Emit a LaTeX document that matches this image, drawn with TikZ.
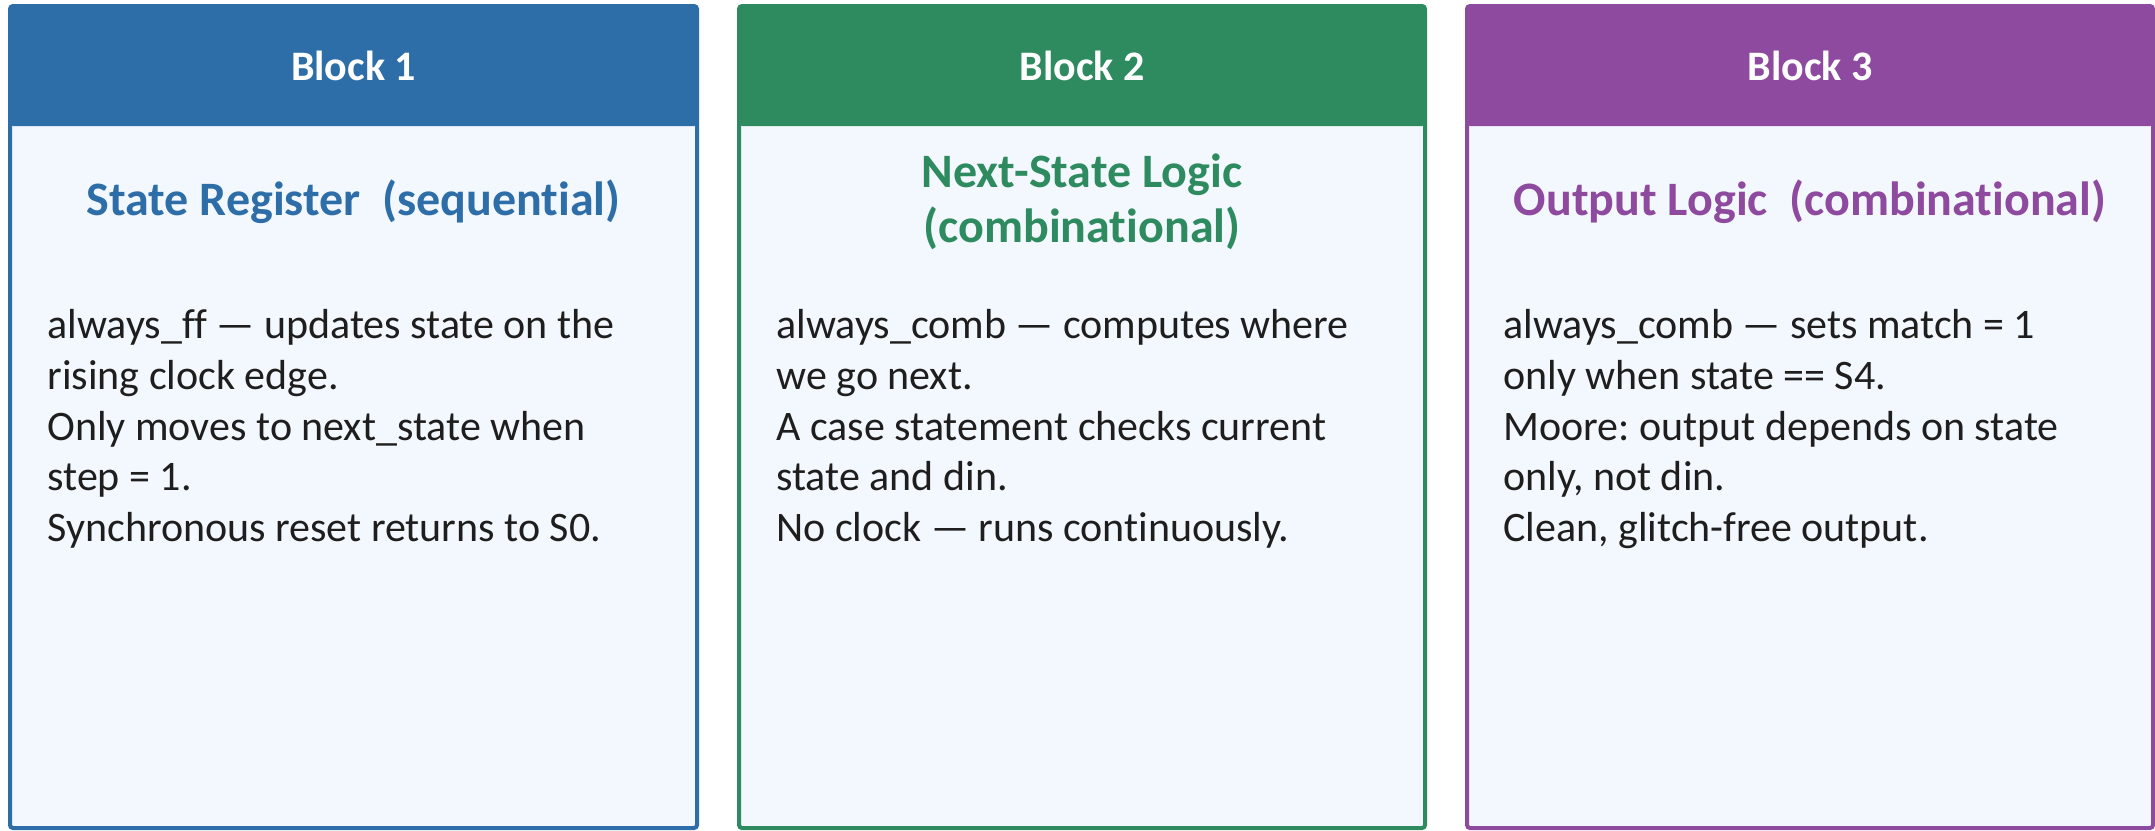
\documentclass[tikz,border=0pt]{standalone}
\usepackage{fontspec}
\setmainfont[Ligatures=NoCommon]{Carlito}
\frenchspacing
\definecolor{cblue}{HTML}{2E6EA8}
\definecolor{cgreen}{HTML}{2E8B5F}
\definecolor{cpurple}{HTML}{8E4A9E}
\definecolor{bodyfill}{HTML}{F3F7FE}
\definecolor{txt}{HTML}{1E1E1E}
\tikzset{
  headtext/.style={text=white, font=\bfseries\fontsize{21pt}{25pt}\selectfont, inner sep=0pt, anchor=center},
  titletext/.style={font=\bfseries\fontsize{24pt}{27.5pt}\selectfont, inner sep=0pt, anchor=center, align=center},
  bodytext/.style={text=txt, font=\fontsize{21pt}{25.4pt}\selectfont, inner sep=0pt, anchor=north west, align=left},
  boxframe/.style={line width=2pt, rounded corners=1.5pt}
}
\begin{document}
\begin{tikzpicture}[x=0.5pt,y=-0.5pt]
\useasboundingbox (0,0) rectangle (2155,830);
% Block 1
\fill[bodyfill] (10,6) rectangle (697,828);
\fill[cblue, rounded corners=1.5pt] (10,5) rectangle (697,126);
\draw[cblue, boxframe] (10,6) rectangle (697,828);
\node[headtext] (h1) at (353.5,66) {Block 1};
\node[titletext, text=cblue] (t1) at (353.5,202) {State Register\ \ (sequential)};
\node[bodytext] (d1) at (47,309) {always\_ff — updates state on the\\rising clock edge.\\Only moves to next\_state when\\step = 1.\\Synchronous reset returns to S0.};
% Block 2
\fill[bodyfill] (739,6) rectangle (1425,828);
\fill[cgreen, rounded corners=1.5pt] (739,5) rectangle (1425,126);
\draw[cgreen, boxframe] (739,6) rectangle (1425,828);
\node[headtext] (h2) at (1082,66) {Block 2};
\node[titletext, text=cgreen] (t2) at (1082,202) {Next-State Logic\\(combinational)};
\node[bodytext] (d2) at (776,309) {always\_comb — computes where\\we go next.\\A case statement checks current\\state and din.\\No clock — runs continuously.};
% Block 3
\fill[bodyfill] (1467,6) rectangle (2153,828);
\fill[cpurple, rounded corners=1.5pt] (1467,5) rectangle (2153,126);
\draw[cpurple, boxframe] (1467,6) rectangle (2153,828);
\node[headtext] (h3) at (1810,66) {Block 3};
\node[titletext, text=cpurple] (t3) at (1810,202) {Output Logic\ \ (combinational)};
\node[bodytext] (d3) at (1503,309) {always\_comb — sets match = 1\\only when state == S4.\\Moore: output depends on state\\only, not din.\\Clean, glitch-free output.};
\end{tikzpicture}
\end{document}
